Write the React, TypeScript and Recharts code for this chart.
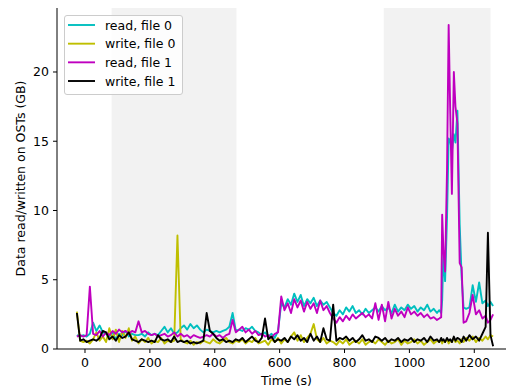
import React from 'react';
import { LineChart, Line, XAxis, YAxis, ReferenceArea, Legend } from 'recharts';

// Time (s)
const times = [
  -25, -15, -5, 5, 15, 25, 35, 45, 55, 65,
  75, 85, 95, 105, 115, 125, 135, 145, 155, 165,
  175, 185, 195, 205, 215, 225, 235, 245, 255, 265,
  275, 285, 295, 305, 315, 325, 335, 345, 355, 365,
  375, 385, 395, 405, 415, 425, 435, 445, 455, 465,
  475, 485, 495, 505, 515, 525, 535, 545, 555, 565,
  575, 585, 595, 605, 615, 625, 635, 645, 655, 665,
  675, 685, 695, 705, 715, 725, 735, 745, 755, 765,
  775, 785, 795, 805, 815, 825, 835, 845, 855, 865,
  875, 885, 895, 905, 915, 925, 935, 945, 955, 965,
  975, 985, 995, 1005, 1015, 1025, 1035, 1045, 1055, 1065,
  1075, 1085, 1092, 1098, 1101, 1105, 1110, 1116, 1121, 1126,
  1131, 1137, 1142, 1148, 1155, 1161, 1167, 1175, 1185, 1195,
  1205, 1215, 1225, 1235, 1242, 1250, 1258,
];

// read, file 0 (GB)
const readFile0 = [
  1.0, 0.9, 1.0, 0.9, 1.1, 1.9, 1.3, 1.7, 1.2, 1.1,
  0.9, 1.2, 0.7, 1.1, 1.0, 1.3, 0.9, 1.1, 1.0, 1.0,
  1.1, 0.9, 1.2, 1.0, 1.1, 1.0, 1.3, 1.6, 1.2, 1.5,
  1.1, 1.2, 1.5, 1.7, 1.4, 1.8, 1.5, 1.7, 1.4, 1.2,
  1.4, 1.3, 1.2, 1.3, 1.2, 1.3, 1.4, 1.6, 2.6, 1.3,
  1.4, 1.3, 1.5, 1.4, 1.6, 1.3, 1.2, 1.0, 1.2, 0.9,
  1.1, 0.8, 1.3, 3.3, 3.0, 3.6, 3.2, 4.0, 3.4, 3.9,
  3.1, 3.6, 3.3, 3.7, 3.1, 3.5, 3.2, 3.4, 3.0, 2.6,
  2.4, 2.8, 2.5, 3.0, 2.7, 3.1, 2.6, 2.8, 2.5, 2.9,
  2.6, 2.8, 3.0, 2.7, 3.1, 2.8, 3.0, 2.6, 3.2, 2.7,
  3.0, 2.8, 3.2, 2.9, 3.1, 2.7, 3.0, 2.8, 3.2, 2.7,
  2.9, 2.6, 2.8, 2.6, 3.5, 7.0, 4.9, 9.5, 15.2, 15.0,
  14.3, 15.5, 14.9, 17.2, 9.0, 5.2, 3.0, 2.9, 3.0, 4.6,
  3.4, 4.8, 3.3, 3.5, 3.1, 3.4, 3.1,
];

// write, file 0 (GB)
const writeFile0 = [
  2.7, 0.6, 0.5, 0.6, 0.4, 0.7, 1.2, 0.6, 0.9, 0.5,
  1.5, 0.7, 1.4, 0.5, 1.3, 0.8, 1.5, 0.6, 0.9, 0.4,
  0.7, 0.5, 0.8, 0.4, 0.6, 0.5, 0.8, 0.4, 0.6, 0.5,
  0.6, 8.2, 0.7, 0.5, 0.4, 0.6, 0.3, 0.5, 0.4, 0.6,
  0.5, 0.4, 0.7, 0.5, 0.4, 0.6, 0.8, 0.5, 0.4, 0.6,
  0.5, 0.7, 0.4, 0.6, 0.5, 0.8, 0.4, 0.5, 0.6, 0.3,
  0.7, 0.5, 0.8, 0.4, 0.7, 0.5, 0.9, 1.2, 0.6, 1.0,
  0.5, 0.8, 1.1, 1.8, 0.7, 0.5, 0.8, 0.4, 0.6, 0.5,
  0.3, 0.6, 0.4, 0.7, 0.3, 0.5, 0.6, 0.4, 0.7, 0.3,
  0.5, 0.6, 0.4, 0.7, 0.5, 0.3, 0.6, 0.4, 0.5, 0.7,
  0.3, 0.6, 0.4, 0.5, 0.7, 0.4, 0.6, 0.3, 0.5, 0.7,
  0.4, 0.6, 0.5, 0.7, 0.4, 0.6, 0.5, 0.7, 0.4, 0.6,
  0.5, 0.8, 0.5, 0.6, 0.4, 0.7, 0.5, 0.8, 0.6, 0.9,
  0.5, 0.8, 0.6, 0.9, 0.7, 1.0, 0.9,
];

// read, file 1 (GB)
const readFile1 = [
  0.9, 1.0, 0.9, 1.0, 4.5, 1.1, 1.0, 1.3, 0.9, 1.2,
  1.0, 1.3, 1.1, 1.4, 1.2, 1.3, 1.1, 1.3, 1.2, 2.0,
  1.2, 1.3, 1.1, 1.0, 1.1, 0.9, 1.0, 1.1, 0.9, 1.0,
  1.2, 0.9, 1.1, 0.9, 1.0, 0.8, 1.0, 0.9, 0.8, 0.9,
  1.0, 0.9, 1.1, 0.9, 1.0, 0.8, 1.0, 1.1, 2.1, 1.2,
  1.4, 1.6, 1.2, 1.4, 1.1, 1.3, 1.0, 1.1, 0.9, 1.0,
  0.8, 1.1, 1.2, 3.8, 2.8, 3.3, 2.6, 3.6, 3.0, 3.5,
  2.7, 3.4, 2.9, 3.3, 2.6, 3.5, 2.8, 3.1, 2.6, 2.2,
  1.9, 2.3, 2.0, 2.4, 2.1, 2.5, 2.2, 2.4, 2.6, 2.3,
  2.5, 2.2, 3.3, 2.1, 3.2, 2.0, 3.4, 2.2, 2.9, 2.4,
  2.7, 2.3, 3.0, 2.5, 2.7, 2.4, 2.6, 2.3, 2.5, 2.2,
  2.3, 2.1, 2.2, 2.3, 9.7, 7.1, 5.6, 13.0, 23.4, 17.0,
  11.2, 20.0, 17.5, 16.3, 6.2, 5.9, 1.9, 2.0, 2.6, 3.9,
  2.5, 2.8, 2.2, 2.4, 1.9, 2.1, 2.5,
];

// write, file 1 (GB)
const writeFile1 = [
  2.6, 0.6, 0.7, 0.5, 0.6, 0.7, 0.6, 0.8, 1.3, 1.2,
  0.7, 0.9, 0.6, 1.0, 0.8, 0.9, 1.2, 0.7, 0.6, 0.5,
  0.7, 0.6, 0.5, 0.6, 0.5, 1.0, 0.7, 0.6, 0.7, 0.5,
  0.9, 0.5, 0.6, 0.5, 0.6, 0.4, 0.5, 0.4, 0.5, 0.6,
  2.6, 1.3, 1.1, 0.8, 0.6, 0.7, 0.5, 0.6, 0.5, 0.7,
  0.6, 0.8, 0.5, 0.7, 0.9, 0.6, 0.5, 0.8, 2.2, 0.7,
  0.9, 0.5, 0.7, 0.6, 0.8, 0.5, 0.9, 0.7, 1.0, 0.6,
  0.8, 0.5, 1.1, 0.6, 0.9, 0.5, 1.5, 0.7, 0.6, 3.2,
  0.6, 0.8, 0.7, 0.9, 0.6, 0.8, 0.5, 0.7, 1.0, 0.6,
  0.7, 0.5, 0.9, 0.8, 0.6, 0.8, 0.5, 0.7, 0.6, 0.8,
  0.5, 0.7, 0.6, 0.8, 0.5, 0.7, 0.6, 0.8, 0.5, 0.9,
  0.6, 0.7, 0.5, 0.8, 0.6, 0.7, 0.5, 0.8, 0.6, 0.7,
  0.5, 0.9, 0.6, 0.8, 0.7, 0.5, 0.9, 0.6, 1.0, 0.7,
  0.9, 0.6, 1.1, 1.6, 8.4, 1.0, 0.2,
];

const xTicks = [0, 200, 400, 600, 800, 1000, 1200];
const yTicks = [0, 5, 10, 15, 20];
const shadedSpans = [
  [82, 467],
  [921, 1250],
];
const seriesKeys = ['r0', 'w0', 'r1', 'w1'];
const seriesNames = ['read, file 0', 'write, file 0', 'read, file 1', 'write, file 1'];
const seriesColors = ['#00bfbf', '#bfbf00', '#bf00bf', '#000000'];

const data = times.map((t, i) => ({
  t,
  r0: readFile0[i],
  w0: writeFile0[i],
  r1: readFile1[i],
  w1: writeFile1[i],
}));

const FONT = 'DejaVu Sans';
const FS = 12.5;

const LegendBox = () => (
  <div
    style={{
      boxSizing: 'border-box',
      width: 119,
      height: 80,
      border: '1px solid #cccccc',
      borderRadius: 3,
      background: 'rgba(255,255,255,0.8)',
    }}
  >
    <svg width={117} height={78} style={{ display: 'block' }}>
      {seriesNames.map((name, i) => {
        const y = 9 + i * 18.67;
        return (
          <g key={name}>
            <line x1={3} x2={30} y1={y} y2={y} stroke={seriesColors[i]} strokeWidth={1.9} />
            <text
              x={40}
              y={y}
              dominantBaseline="central"
              fontFamily={FONT}
              fontSize={FS}
              fill="#000"
            >
              {name}
            </text>
          </g>
        );
      })}
    </svg>
  </div>
);

const YLabel = (props: any) => {
  const vb = props.viewBox || { x: 0, y: 8, width: 57, height: 341 };
  const cx = 20.5;
  const cy = vb.y + vb.height / 2;
  return (
    <text
      x={cx}
      y={cy}
      transform={`rotate(-90 ${cx} ${cy})`}
      textAnchor="middle"
      dominantBaseline="central"
      fontFamily={FONT}
      fontSize={FS}
      fill="#000"
    >
      Data read/written on OSTs (GB)
    </text>
  );
};

const XLabel = (props: any) => {
  const vb = props.viewBox || { x: 57, y: 349, width: 459, height: 41 };
  return (
    <text
      x={vb.x + vb.width / 2}
      y={384.5}
      textAnchor="middle"
      fontFamily={FONT}
      fontSize={FS}
      fill="#000"
    >
      Time (s)
    </text>
  );
};

export default function App() {
  const tickStyle = { fill: '#000', fontSize: FS, fontFamily: FONT };
  return (
    <div
      style={{
        position: 'absolute',
        left: 0,
        top: 0,
        width: 506,
        height: 390,
        overflow: 'hidden',
        background: '#fff',
      }}
    >
      <LineChart
        width={520}
        height={390}
        data={data}
        margin={{ top: 8, right: 4, bottom: 0, left: 0 }}
        style={{ fontFamily: FONT }}
      >
        {shadedSpans.map(([a, b]) => (
          <ReferenceArea
            key={a}
            x1={a}
            x2={b}
            fill="#f2f2f2"
            fillOpacity={1}
            stroke="none"
            ifOverflow="visible"
          />
        ))}
        <XAxis
          dataKey="t"
          type="number"
          domain={[-86.3, 1328.6]}
          allowDataOverflow
          ticks={xTicks}
          interval={0}
          height={41}
          tickSize={4}
          tickMargin={5}
          tick={tickStyle}
          tickLine={{ stroke: '#000', strokeWidth: 1 }}
          axisLine={{ stroke: '#000', strokeWidth: 1 }}
          label={<XLabel />}
        />
        <XAxis
          xAxisId="top"
          orientation="top"
          dataKey="t"
          type="number"
          domain={[-86.3, 1328.6]}
          allowDataOverflow
          height={0}
          tick={false}
          tickLine={false}
          axisLine={{ stroke: '#000', strokeWidth: 1 }}
        />
        <YAxis
          type="number"
          domain={[0, 24.62]}
          allowDataOverflow
          ticks={yTicks}
          interval={0}
          width={57}
          tickSize={4}
          tickMargin={4}
          tick={tickStyle}
          tickLine={{ stroke: '#000', strokeWidth: 1 }}
          axisLine={{ stroke: '#000', strokeWidth: 1 }}
          label={<YLabel />}
        />
        {seriesKeys.map((k, i) => (
          <Line
            key={k}
            type="linear"
            dataKey={k}
            name={seriesNames[i]}
            stroke={seriesColors[i]}
            strokeWidth={1.9}
            strokeLinejoin="round"
            dot={false}
            activeDot={false}
            isAnimationActive={false}
          />
        ))}
        <Legend
          layout="vertical"
          align="center"
          verticalAlign="middle"
          wrapperStyle={{ position: 'absolute', left: 64, top: 15, width: 119, height: 80 }}
          content={<LegendBox />}
        />
      </LineChart>
    </div>
  );
}
